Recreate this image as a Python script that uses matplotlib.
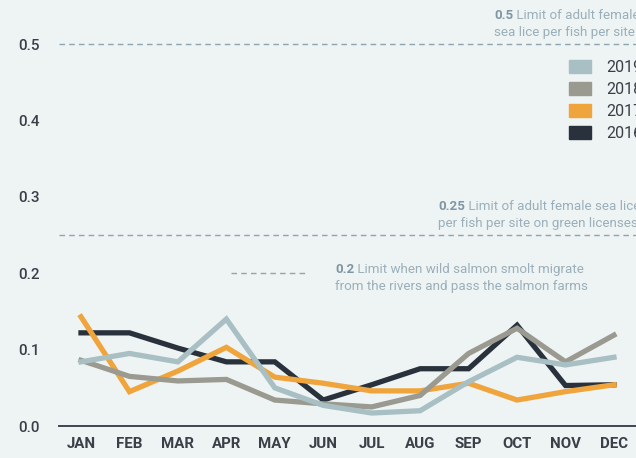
import matplotlib.pyplot as plt
from matplotlib.patches import Patch

months = ["JAN", "FEB", "MAR", "APR", "MAY", "JUN", "JUL", "AUG", "SEP", "OCT", "NOV", "DEC"]
lice_2016 = [0.122, 0.122, 0.102, 0.084, 0.084, 0.034, 0.054, 0.075, 0.075, 0.132, 0.053, 0.054]
lice_2017 = [0.143, 0.045, 0.072, 0.103, 0.064, 0.056, 0.046, 0.046, 0.056, 0.034, 0.045, 0.054]
lice_2018 = [0.086, 0.065, 0.059, 0.061, 0.034, 0.029, 0.025, 0.040, 0.095, 0.128, 0.084, 0.119]
lice_2019 = [0.084, 0.095, 0.084, 0.140, 0.050, 0.027, 0.017, 0.020, 0.058, 0.090, 0.080, 0.090]
yticks = [0.0, 0.1, 0.2, 0.3, 0.4, 0.5]
limit_all = 0.5
limit_green = 0.25
limit_smolt = 0.2

bg = "#eef3f4"
c2019 = "#a8bfc4"
c2018 = "#9b9a91"
c2017 = "#f0a43c"
c2016 = "#29323c"
note_c = "#9aafba"
note_bold = "#7f96a3"
tick_c = "#3a4048"

plt.rcParams.update({
    "font.family": ["Roboto", "DejaVu Sans"],
    "figure.facecolor": bg,
    "axes.facecolor": bg,
})

fig = plt.figure(figsize=(6.36, 4.58), dpi=100)
ax = fig.add_axes([59 / 636, 32 / 458, 577 / 636, 420 / 458])

x = list(range(len(months)))
ax.plot(x, lice_2016, color=c2016, lw=3.8, solid_joinstyle="miter")
ax.plot(x, lice_2017, color=c2017, lw=3.8, solid_joinstyle="miter")
ax.plot(x, lice_2018, color=c2018, lw=3.8, solid_joinstyle="miter")
ax.plot(x, lice_2019, color=c2019, lw=3.8, solid_joinstyle="miter")

# limit lines
ax.axhline(limit_all, color="#8ea4b1", lw=1.0, ls=(0, (4, 3)))
ax.axhline(limit_green, color="#8ea4b1", lw=1.0, ls=(0, (4, 3)))
ax.plot([3.1, 4.65], [limit_smolt, limit_smolt], color="#9aa1a8", lw=1.0, ls=(0, (4, 3)))

def note(xp, yp, num, line1, line2):
    t = ax.text(xp, yp, num, fontsize=9.6, fontweight="bold", color=note_bold,
                transform=fig.transFigure, va="baseline")
    ax.annotate(" " + line1, xy=(1, 0), xycoords=t, fontsize=9.6, color=note_c, va="bottom")
    ax.text(xp, yp - 17 / 458, line2, fontsize=9.6, color=note_c,
            transform=fig.transFigure, va="baseline")

note(494 / 636, 1 - 19 / 458, "0.5", "Limit of adult female", "sea lice per fish per site")
note(438 / 636, 1 - 210 / 458, "0.25", "Limit of adult female sea lice", "per fish per site on green licenses")
note(335 / 636, 1 - 273 / 458, "0.2", "Limit when wild salmon smolt migrate", "from the rivers and pass the salmon farms")

handles = [Patch(color=c2019, label="2019"), Patch(color=c2018, label="2018"),
           Patch(color=c2017, label="2017"), Patch(color=c2016, label="2016")]
leg = ax.legend(handles=handles, loc="upper left", bbox_to_anchor=(569 / 636, 1 - 60 / 458),
                bbox_transform=fig.transFigure, frameon=False, fontsize=11.5,
                handlelength=1.35, handleheight=0.9, labelspacing=0.42, handletextpad=1.0,
                borderpad=0, borderaxespad=0)
for t in leg.get_texts():
    t.set_color("#3a3f46")

ax.set_xlim(-0.454, 11.455)
ax.set_ylim(0, 0.55)
ax.set_xticks(x)
ax.set_xticklabels(months, fontweight="bold", fontsize=10.8, color=tick_c)
ax.set_yticks(yticks)
ax.set_yticklabels([f"{v:.1f}" for v in yticks], fontsize=11, fontweight="medium", color=tick_c)
ax.tick_params(length=0, pad=8)
ax.tick_params(axis="y", pad=14)
for s in ["top", "right", "left"]:
    ax.spines[s].set_visible(False)
ax.spines["bottom"].set_color("#3d4650")
ax.spines["bottom"].set_linewidth(1.4)

fig.savefig("out.png", dpi=100, facecolor=bg)
